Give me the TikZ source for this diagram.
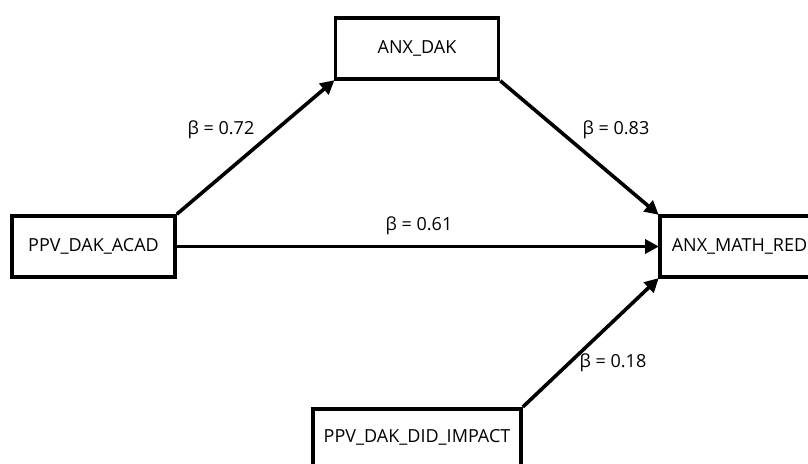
\documentclass[tikz,border=0pt]{standalone}
\usepackage{fontspec}
\setmainfont{Open Sans}
\usetikzlibrary{arrows.meta}
\begin{document}
\begin{tikzpicture}[x=1pt,y=-1pt,
  varbox/.style={draw=black, line width=3.6pt, fill=white, font=\fontsize{18}{20}\selectfont, inner sep=0pt},
  path/.style={line width=3.6pt, -{Triangle[length=14pt,width=14pt]}, shorten >=-1pt},
  coef/.style={font=\fontsize{18}{20}\selectfont, inner sep=0pt}]
  \useasboundingbox (0,0) rectangle (808,463);
  \clip (0,0) rectangle (808,463);
  \fill[white] (0,0) rectangle (808,463);

  % variables
  \node[varbox, minimum width=163pt, minimum height=61pt] (acad) at (93.5,246.5) {PPV\_DAK\_ACAD};
  \node[varbox, minimum width=163pt, minimum height=61pt] (anx) at (417,48.5) {ANX\_DAK};
  \node[varbox, minimum height=61pt, anchor=west, inner xsep=12pt, text width=150pt, align=left] (math) at (658,246.5) {ANX\_MATH\_RED};
  \node[varbox, minimum width=208pt, minimum height=58pt, anchor=north] (impact) at (417,407) {PPV\_DAK\_DID\_IMPACT};

  % paths
  \draw[path] (acad.north east) -- (anx.south west);
  \draw[path] (anx.south east) -- (math.north west);
  \draw[path] (acad.east) -- (math.west);
  \draw[path] (impact.north east) -- (math.south west);

  % coefficients
  \node[coef] (b1) at (221,130) {β = 0.72};
  \node[coef] (b2) at (616,130) {β = 0.83};
  \node[coef] (b3) at (419,226) {β = 0.61};
  \node[coef] (b4) at (613,363) {β = 0.18};
\end{tikzpicture}
\end{document}
